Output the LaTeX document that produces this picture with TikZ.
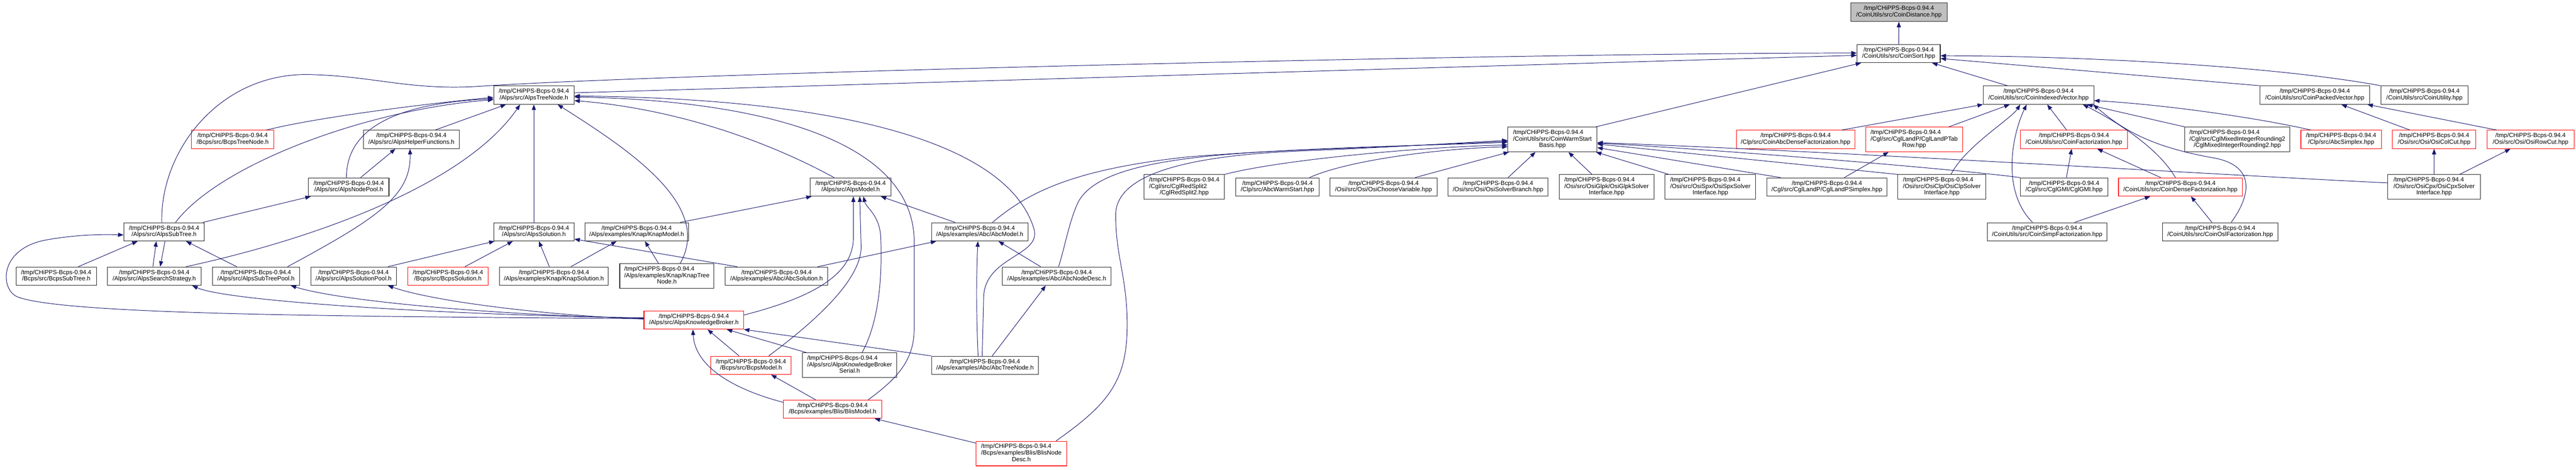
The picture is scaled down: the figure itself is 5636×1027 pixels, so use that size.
\documentclass[tikz,border=0pt]{standalone}
\usepackage{fontspec}
\setmainfont{Liberation Sans}
\usetikzlibrary{arrows.meta}
\definecolor{edgeblue}{HTML}{191970}
\definecolor{grayfill}{HTML}{BFBFBF}
\newcommand{\twol}[1]{\begin{tabular}{@{}c@{}}/tmp/CHiPPS-Bcps-0.94.4\\#1\end{tabular}}
\newcommand{\threel}[2]{\begin{tabular}{@{}l@{}}/tmp/CHiPPS-Bcps-0.94.4\\#1\\\multicolumn{1}{@{}c@{}}{#2}\end{tabular}}
\begin{document}
\begin{tikzpicture}[x=1pt,y=-1pt,
  box/.style={draw=black!85,line width=1.2pt,fill=white,inner sep=0pt,font=\fontsize{13.3}{14.2}\selectfont},
  redbox/.style={box,draw=red},
  graybox/.style={box,fill=grayfill},
  edge/.style={draw=edgeblue,line width=1.1pt,-{Triangle[length=12pt,width=9pt]}}]
\useasboundingbox (0,0) rectangle (5636,1027);
\fill[white] (0,0) rectangle (5636,1027);
% row 0-1
\node[graybox,minimum width=211pt,minimum height=41pt] (cdist) at (4154.5,26.5) {\twol{/CoinUtils/src/CoinDistance.hpp}};
\node[box,minimum width=182pt,minimum height=40pt] (csort) at (4154,117) {\twol{/CoinUtils/src/CoinSort.hpp}};
% row 2
\node[box,minimum width=176pt,minimum height=40pt] (atn) at (1168,208) {\twol{/Alps/src/AlpsTreeNode.h}};
\node[box,minimum width=242pt,minimum height=40pt] (civ) at (4460,208) {\twol{/CoinUtils/src/CoinIndexedVector.hpp}};
\node[box,minimum width=241pt,minimum height=40pt] (cpv) at (5064.5,208) {\twol{/CoinUtils/src/CoinPackedVector.hpp}};
\node[box,minimum width=191pt,minimum height=40pt] (cut) at (5304.5,208) {\twol{/CoinUtils/src/CoinUtility.hpp}};
% row 3
\node[redbox,minimum width=180pt,minimum height=40pt] (btn) at (509,305) {\twol{/Bcps/src/BcpsTreeNode.h}};
\node[box,minimum width=210pt,minimum height=40pt] (ahf) at (900,305) {\twol{/Alps/src/AlpsHelperFunctions.h}};
\node[box,minimum width=195pt,minimum height=54pt] (cwsb) at (3396.5,305) {\threel{/CoinUtils/src/CoinWarmStart}{Basis.hpp}};
\node[redbox,minimum width=259pt,minimum height=40pt] (cadf) at (3928.5,305) {\twol{/Clp/src/CoinAbcDenseFactorization.hpp}};
\node[redbox,minimum width=212pt,minimum height=54pt] (clpt) at (4188,305) {\threel{/Cgl/src/CglLandP/CglLandPTab}{Row.hpp}};
\node[redbox,minimum width=235pt,minimum height=40pt] (cfac) at (4537.5,305) {\twol{/CoinUtils/src/CoinFactorization.hpp}};
\node[box,minimum width=230pt,minimum height=54pt] (cmir) at (4895,305) {\threel{/Cgl/src/CglMixedIntegerRounding2}{/CglMixedIntegerRounding2.hpp}};
\node[redbox,minimum width=176pt,minimum height=40pt] (asimp) at (5122,305) {\twol{/Clp/src/AbcSimplex.hpp}};
\node[redbox,minimum width=183pt,minimum height=40pt] (ocol) at (5325.5,305) {\twol{/Osi/src/Osi/OsiColCut.hpp}};
\node[redbox,minimum width=191pt,minimum height=40pt] (orow) at (5536.5,305) {\twol{/Osi/src/Osi/OsiRowCut.hpp}};
% row 4
\node[box,minimum width=176pt,minimum height=40pt] (anp) at (763,409) {\twol{/Alps/src/AlpsNodePool.h}};
\node[box,minimum width=176pt,minimum height=40pt] (amod) at (1861,409) {\twol{/Alps/src/AlpsModel.h}};
\node[box,minimum width=176pt,minimum height=54pt] (crs2) at (2591,409) {\threel{/Cgl/src/CglRedSplit2}{/CglRedSplit2.hpp}};
\node[box,minimum width=182pt,minimum height=40pt] (aws) at (2795,409) {\twol{/Clp/src/AbcWarmStart.hpp}};
\node[box,minimum width=234pt,minimum height=40pt] (ocv) at (3027,409) {\twol{/Osi/src/Osi/OsiChooseVariable.hpp}};
\node[box,minimum width=219pt,minimum height=40pt] (osb) at (3277.5,409) {\twol{/Osi/src/Osi/OsiSolverBranch.hpp}};
\node[box,minimum width=208pt,minimum height=54pt] (oglpk) at (3515,409) {\threel{/Osi/src/OsiGlpk/OsiGlpkSolver}{Interface.hpp}};
\node[box,minimum width=198pt,minimum height=54pt] (ospx) at (3742,409) {\threel{/Osi/src/OsiSpx/OsiSpxSolver}{Interface.hpp}};
\node[box,minimum width=262pt,minimum height=40pt] (clps) at (3997,409) {\twol{/Cgl/src/CglLandP/CglLandPSimplex.hpp}};
\node[box,minimum width=193pt,minimum height=54pt] (oclp) at (4248.5,409) {\threel{/Osi/src/OsiClp/OsiClpSolver}{Interface.hpp}};
\node[box,minimum width=192pt,minimum height=40pt] (cgmi) at (4516,409) {\twol{/Cgl/src/CglGMI/CglGMI.hpp}};
\node[redbox,minimum width=271pt,minimum height=40pt] (cdf) at (4770.5,409) {\twol{/CoinUtils/src/CoinDenseFactorization.hpp}};
\node[box,minimum width=203pt,minimum height=54pt] (ocpx) at (5325.5,409) {\threel{/Osi/src/OsiCpx/OsiCpxSolver}{Interface.hpp}};
% row 5
\node[box,minimum width=176pt,minimum height=40pt] (ast) at (359,507) {\twol{/Alps/src/AlpsSubTree.h}};
\node[box,minimum width=176pt,minimum height=40pt] (asol) at (1168,507) {\twol{/Alps/src/AlpsSolution.h}};
\node[box,minimum width=226pt,minimum height=40pt] (kmod) at (1393,507) {\twol{/Alps/examples/Knap/KnapModel.h}};
\node[box,minimum width=211pt,minimum height=40pt] (amodabc) at (2143.5,507) {\twol{/Alps/examples/Abc/AbcModel.h}};
\node[box,minimum width=262pt,minimum height=40pt] (csf) at (4479,507) {\twol{/CoinUtils/src/CoinSimpFactorization.hpp}};
\node[box,minimum width=253pt,minimum height=40pt] (cof) at (4857.5,507) {\twol{/CoinUtils/src/CoinOslFactorization.hpp}};
% row 6
\node[box,minimum width=176pt,minimum height=40pt] (bst) at (123,604) {\twol{/Bcps/src/BcpsSubTree.h}};
\node[box,minimum width=205pt,minimum height=40pt] (ass) at (337.5,604) {\twol{/Alps/src/AlpsSearchStrategy.h}};
\node[box,minimum width=190pt,minimum height=40pt] (astp) at (560,604) {\twol{/Alps/src/AlpsSubTreePool.h}};
\node[box,minimum width=187pt,minimum height=40pt] (asp) at (773.5,604) {\twol{/Alps/src/AlpsSolutionPool.h}};
\node[redbox,minimum width=176pt,minimum height=40pt] (bsol) at (980,604) {\twol{/Bcps/src/BcpsSolution.h}};
\node[box,minimum width=238pt,minimum height=40pt] (ksol) at (1212,604) {\twol{/Alps/examples/Knap/KnapSolution.h}};
\node[box,minimum width=206pt,minimum height=54pt] (ktn) at (1459,604) {\threel{/Alps/examples/Knap/KnapTree}{Node.h}};
\node[box,minimum width=224pt,minimum height=40pt] (asolabc) at (1699,604) {\twol{/Alps/examples/Abc/AbcSolution.h}};
\node[box,minimum width=238pt,minimum height=40pt] (and) at (2312,604) {\twol{/Alps/examples/Abc/AbcNodeDesc.h}};
% row 7-10
\node[redbox,minimum width=218pt,minimum height=40pt] (akb) at (1518,700) {\twol{/Alps/src/AlpsKnowledgeBroker.h}};
\node[redbox,minimum width=176pt,minimum height=40pt] (bmod) at (1643,799) {\twol{/Bcps/src/BcpsModel.h}};
\node[box,minimum width=206pt,minimum height=54pt] (akbs) at (1859,799) {\threel{/Alps/src/AlpsKnowledgeBroker}{Serial.h}};
\node[box,minimum width=234pt,minimum height=40pt] (atnabc) at (2155,799) {\twol{/Alps/examples/Abc/AbcTreeNode.h}};
\node[redbox,minimum width=215pt,minimum height=40pt] (blis) at (1821.5,895) {\twol{/Bcps/examples/Blis/BlisModel.h}};
\node[redbox,minimum width=199pt,minimum height=54pt] (bnd) at (2234.5,992) {\threel{/Bcps/examples/Blis/BlisNode}{Desc.h}};
% edges
\draw[edge] (csort.north) -- (cdist.south);
\draw[edge] ([yshift=5pt]atn.east) -- ([yshift=-4pt]csort.west);
\draw[edge] ([xshift=-5pt]ast.north) .. controls (350,330) and (480,160) .. (675,163) .. controls (820,166) and (900,200) .. (1060,188) .. controls (1500,160) and (3300,116) .. ([yshift=1pt]csort.west);
\draw[edge] ([xshift=-3pt]cwsb.north east) -- ([xshift=-82pt]csort.south);
\draw[edge] ([xshift=-68pt]civ.north) -- ([xshift=73pt]csort.south);
\draw[edge] (cpv.north west) -- ([yshift=-11pt]csort.east);
\draw[edge] (cut.north west) .. controls (4950,140) and (4500,122) .. ([yshift=-5pt]csort.east);
\draw[edge] ([xshift=74pt]btn.north) .. controls (700,255) and (950,225) .. ([yshift=-5pt]atn.west);
\draw[edge] ([xshift=-5pt]anp.north) .. controls (758,300) and (830,228) .. ([yshift=-8pt]atn.west);
\draw[edge] ([xshift=25pt]ast.north) .. controls (480,360) and (800,240) .. ([yshift=-10pt]atn.west);
\draw[edge] ([xshift=52pt]ahf.north) -- ([xshift=-61pt]atn.south);
\draw[edge] ([xshift=69pt]ass.north) .. controls (700,520) and (1020,400) .. ([xshift=-30pt]atn.south);
\draw[edge] (asol.north) -- (atn.south);
\draw[edge] ([xshift=29pt]ktn.north) .. controls (1560,450) and (1380,330) .. ([xshift=52pt]atn.south);
\draw[edge] ([xshift=-6pt]atnabc.north) -- (2152,650) .. controls (2155,560) and (2280,560) .. (2262,500) .. controls (2200,300) and (1800,215) .. ([yshift=-2pt]atn.east);
\draw[edge] ([xshift=78pt]blis.north) .. controls (1960,830) and (2000,790) .. (2000,720) -- (2000,520) .. controls (1990,300) and (1650,220) .. ([yshift=-4pt]atn.east);
\draw[edge] ([xshift=-36pt]amod.north) .. controls (1700,320) and (1500,240) .. ([yshift=-12pt]atn.east);
\draw[edge] ([xshift=26pt]anp.north) -- ([xshift=-35pt]ahf.south);
\draw[edge] ([xshift=69pt]astp.north) .. controls (820,480) and (900,430) .. ([xshift=-3pt]ahf.south);
\draw[edge] ([xshift=85pt]ast.north) -- ([xshift=-83pt]anp.south);
\draw[edge] ([xshift=48pt]bst.north) -- ([xshift=-58pt]ast.south);
\draw[edge] ([xshift=-3pt]ass.north) -- ([xshift=-17pt]ast.south);
\draw[edge] ([xshift=2pt]ast.south) -- ([xshift=13pt]ass.north);
\draw[edge] ([xshift=-42pt]astp.north) -- ([xshift=48pt]ast.south);
\draw[edge] ([yshift=3pt]akb.west) .. controls (800,692) and (150,690) .. (40,650) .. controls (0,636) and (-5,545) .. (100,525) .. controls (160,514) and (220,512) .. ([yshift=-7pt]ast.west);
\draw[edge] ([yshift=5pt]akb.west) .. controls (1000,690) and (500,660) .. ([xshift=83pt]ass.south);
\draw[edge] ([yshift=4pt]akb.west) .. controls (1100,690) and (750,660) .. ([xshift=76pt]astp.south);
\draw[edge] ([yshift=2pt]akb.west) .. controls (1200,690) and (950,660) .. ([xshift=75pt]asp.south);
\draw[edge] ([xshift=75pt]asp.north) -- ([xshift=-86pt]asol.south);
\draw[edge] ([xshift=37pt]bsol.north) -- ([xshift=-46pt]asol.south);
\draw[edge] ([xshift=-10pt]ksol.north) -- ([xshift=11pt]asol.south);
\draw[edge] ([xshift=-86pt]asolabc.north) -- ([yshift=-16pt]asol.east);
\draw[edge] ([xshift=37pt]ksol.north) -- ([xshift=-44pt]kmod.south);
\draw[edge] ([xshift=-18pt]ktn.north) -- ([xshift=18pt]kmod.south);
\draw[edge] ([xshift=95pt]kmod.north) -- ([xshift=-85pt]amod.south);
\draw[edge] ([yshift=11pt]akb.east) .. controls (1780,650) and (1867,600) .. (1867,520) -- ([xshift=6pt]amod.south);
\draw[edge] ([xshift=39pt]bmod.north) .. controls (1760,720) and (1884,620) .. (1884,540) -- ([xshift=20pt]amod.south);
\draw[edge] ([xshift=27pt]akbs.north) .. controls (1925,700) and (1930,600) .. (1927,520) .. controls (1925,470) and (1895,455) .. ([xshift=28pt]amod.south);
\draw[edge] ([xshift=-54pt]amodabc.north) -- ([xshift=66pt]amod.south);
\draw[edge] ([xshift=90pt]asolabc.north) -- ([xshift=-95pt]amodabc.south);
\draw[edge] ([xshift=-15pt]atnabc.north) .. controls (2136,700) and (2136,600) .. ([xshift=-4pt]amodabc.south);
\draw[edge] ([xshift=-35pt]and.north) -- ([xshift=41pt]amodabc.south);
\draw[edge] ([xshift=16pt]atnabc.north) -- ([xshift=-24pt]and.south);
\draw[edge] ([yshift=15pt]blis.west) .. controls (1600,850) and (1520,800) .. ([xshift=-2pt]akb.south);
\draw[edge] ([xshift=-26pt]bmod.north) -- ([xshift=30pt]akb.south);
\draw[edge] ([xshift=-94pt]akbs.north) -- ([xshift=72pt]akb.south);
\draw[edge] (atnabc.north west) -- (akb.south east);
\draw[edge] ([xshift=-37pt]blis.north) -- ([xshift=44pt]bmod.south);
\draw[edge] ([yshift=23pt]bnd.west) -- ([xshift=92pt]blis.south);
\draw[edge] ([xshift=76pt]bnd.north) .. controls (2430,880) and (2468,830) .. (2466,700) .. controls (2464,600) and (2441,560) .. (2441,470) .. controls (2441,380) and (2600,340) .. (2850,330) .. controls (3050,322) and (3200,312) .. ([yshift=-2pt]cwsb.west);
\draw[edge] ([xshift=4pt]and.north) .. controls (2330,540) and (2340,480) .. (2360,440) .. controls (2400,370) and (2550,340) .. (2850,328) .. controls (3050,320) and (3200,314) .. ([yshift=-4pt]cwsb.west);
\draw[edge] ([xshift=28pt]amodabc.north) .. controls (2250,420) and (2350,370) .. (2600,343) .. controls (2900,320) and (3150,318) .. ([yshift=-6pt]cwsb.west);
\draw[edge] (crs2.north east) .. controls (2800,350) and (3100,322) .. ([yshift=-12pt]cwsb.west);
\draw[edge] ([xshift=70pt]aws.north) .. controls (2950,350) and (3150,325) .. ([yshift=-16pt]cwsb.west);
\draw[edge] ([xshift=69pt]ocv.north) -- ([xshift=3pt]cwsb.south west);
\draw[edge] ([xshift=22pt]osb.north) -- ([xshift=-37pt]cwsb.south);
\draw[edge] ([xshift=-32pt]oglpk.north) -- ([xshift=35pt]cwsb.south);
\draw[edge] ([xshift=-91pt]ospx.north) -- ([xshift=-3pt]cwsb.south east);
\draw[edge] ([xshift=-101pt]clps.north) -- ([yshift=-18pt]cwsb.east);
\draw[edge] (oclp.north west) -- ([yshift=-10pt]cwsb.east);
\draw[edge] (cgmi.north west) .. controls (4300,372) and (3800,330) .. ([yshift=-8pt]cwsb.east);
\draw[edge] ([yshift=9pt]ocpx.west) .. controls (4900,385) and (4000,330) .. ([yshift=-7pt]cwsb.east);
\draw[edge] ([xshift=38pt]clps.north) -- ([xshift=-56pt]clpt.south);
\draw[edge] ([xshift=101pt]cadf.north) -- (civ.south west);
\draw[edge] ([xshift=76pt]clpt.north) -- ([xshift=-63pt]civ.south);
\draw[edge] ([xshift=20pt]oclp.north) .. controls (4300,320) and (4400,260) .. ([xshift=-40pt]civ.south);
\draw[edge] ([xshift=-32pt]csf.north) .. controls (4380,420) and (4400,300) .. ([xshift=-26pt]civ.south);
\draw[edge] ([xshift=-16pt]cfac.north) -- ([xshift=19pt]civ.south);
\draw[edge] ([xshift=-11pt]cdf.north) .. controls (4720,320) and (4620,260) .. ([xshift=97pt]civ.south);
\draw[edge] (cmir.north west) -- ([xshift=106pt]civ.south);
\draw[edge] ([xshift=24pt]cof.north) .. controls (4930,420) and (4930,360) .. (4841,345) .. controls (4700,320) and (4640,280) .. ([xshift=-2pt]civ.south east);
\draw[edge] ([xshift=-66pt]asimp.north) .. controls (4950,260) and (4750,230) .. ([yshift=-12pt]civ.east);
\draw[edge] ([xshift=5pt]cgmi.north) -- ([xshift=-5pt]cfac.south);
\draw[edge] ([xshift=-43pt]cdf.north) -- ([xshift=51pt]cfac.south);
\draw[edge] ([xshift=60pt]csf.north) -- ([xshift=-66pt]cdf.south);
\draw[edge] ([xshift=-18pt]cof.north) -- ([xshift=23pt]cdf.south);
\draw[edge] (ocpx.north) -- (ocol.south);
\draw[edge] ([xshift=56pt]ocpx.north) -- ([xshift=-44pt]orow.south);
\draw[edge] ([xshift=-53pt]ocol.north) -- ([xshift=58pt]cpv.south);
\draw[edge] ([xshift=-74pt]orow.north) -- ([xshift=115pt]cpv.south);
\end{tikzpicture}
\end{document}
